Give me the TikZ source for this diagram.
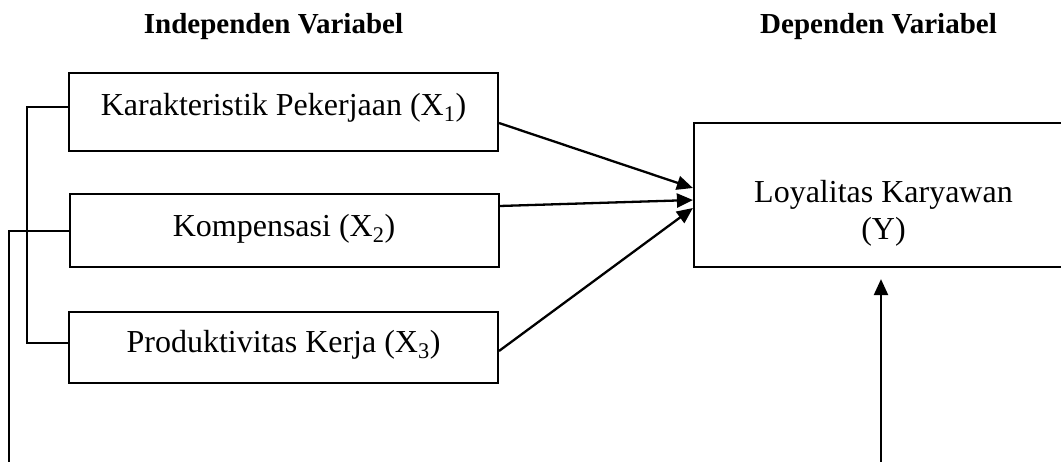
\documentclass[tikz,border=0pt]{standalone}
\usepackage{fontspec}
\setmainfont{Liberation Serif}
\usetikzlibrary{arrows.meta}
\tikzset{
  varbox/.style={draw, line width=2pt, inner sep=0pt, minimum width=429pt,
    font=\fontsize{32}{37}\selectfont, text height=21pt},
  header/.style={anchor=base, font=\fontsize{29}{34}\selectfont\bfseries},
  link/.style={line width=2.3pt, -{Triangle[length=16pt,width=14pt]}},
  bracket/.style={line width=1.8pt},
  bracketthick/.style={line width=2.6pt}
}
\begin{document}
\begin{tikzpicture}[x=1pt,y=-1pt]
\clip (0,0) rectangle (1061,461);
\node[header] (hi) at (273.5,33) {Independen Variabel};
\node[header] (hd) at (878.5,33) {Dependen Variabel};
\node[varbox, minimum height=78pt, text depth=15pt] (x1) at (283.5,112) {Karakteristik Pekerjaan (X\textsubscript{1})};
\node[varbox, minimum height=73pt, text depth=9pt] (x2) at (284,230.5) {Kompensasi (X\textsubscript{2})};
\node[varbox, minimum height=71pt, text depth=11pt] (x3) at (283.5,347.5) {Produktivitas Kerja (X\textsubscript{3})};
\node[draw, line width=2.2pt, inner sep=0pt, minimum width=379pt, minimum height=144pt,
  font=\fontsize{32}{37}\selectfont, text height=50pt, text depth=0pt] (y) at (883.5,195)
  {\begin{tabular}{c}Loyalitas Karyawan\\(Y)\end{tabular}};
% arrows to Y
\draw[link] ([yshift=-11pt]x1.east) -- ([yshift=7pt]y.west);
\draw[link] ([yshift=24.5pt]x2.east) -- ([yshift=-5pt]y.west);
\draw[link] ([yshift=-3.5pt]x3.east) -- ([yshift=-13pt]y.west);
% left bracket
\coordinate (bt) at (27,107);
\coordinate (bb) at (27,343);
\draw[bracket] (x1.west |- bt) -- (bt) -- (bb) -- (x3.west |- bb);
\coordinate (lt) at (9,231);
\coordinate (lb) at (9,475);
\draw[bracketthick] (x2.west |- lt) -- (lt) -- (lb);
% bottom arrow into Y
\coordinate (ab) at (881,475);
\draw[link, shorten >=11pt] (ab) -- (ab |- y.south);
\end{tikzpicture}
\end{document}
